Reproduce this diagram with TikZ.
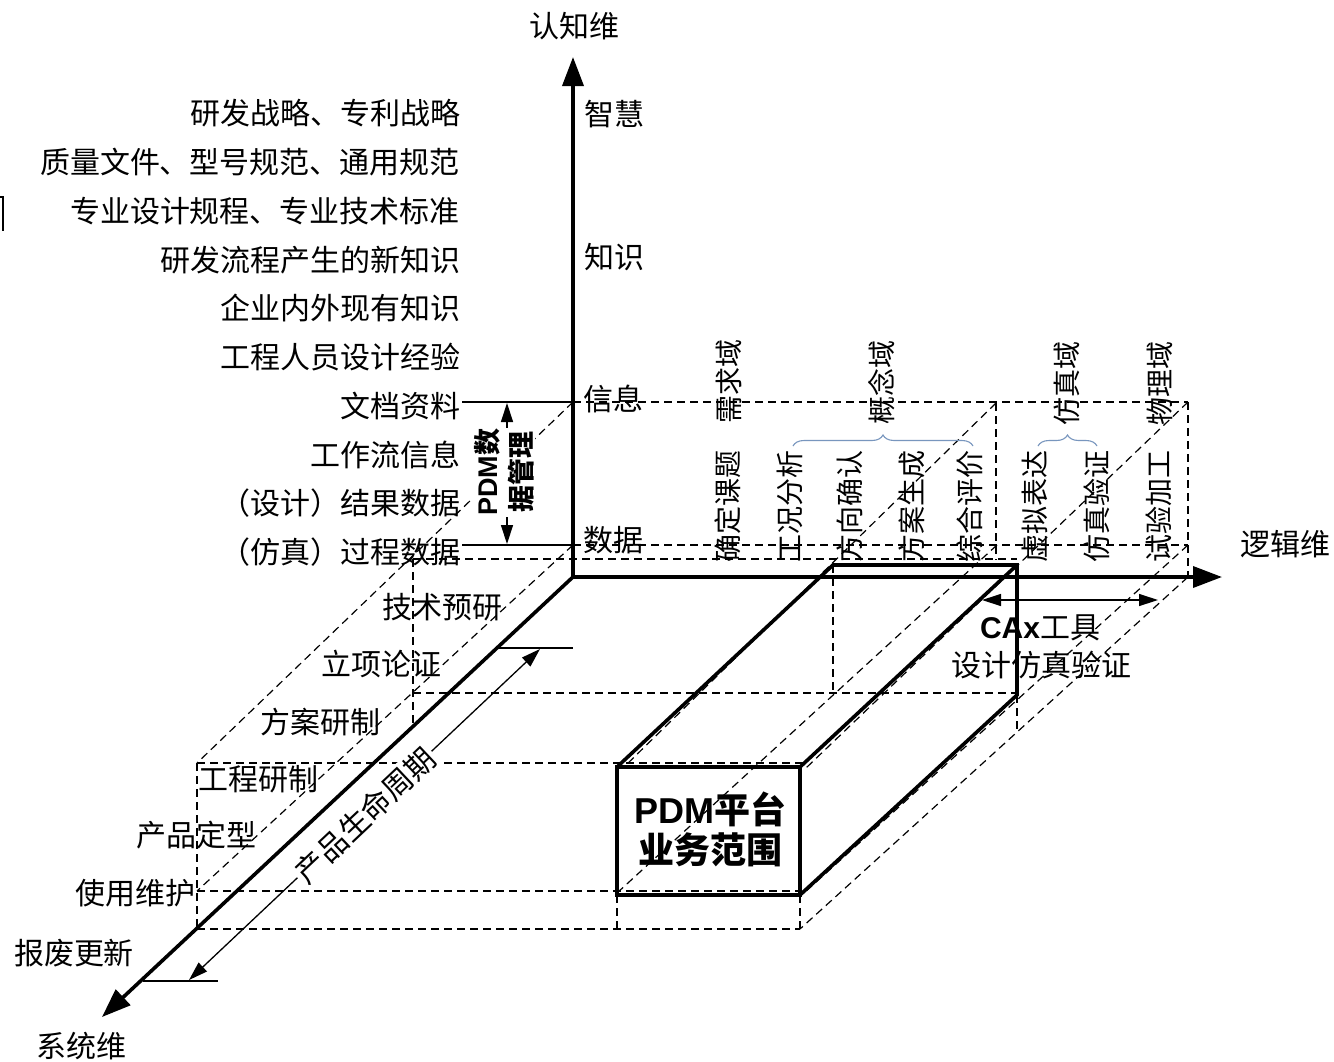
\documentclass[tikz,border=0pt]{standalone}
\usepackage{fontspec}
\setmainfont{Noto Sans CJK SC}
\newfontfamily\arialf{Liberation Sans}
\usetikzlibrary{arrows.meta,decorations.pathreplacing}
\definecolor{braceblue}{RGB}{120,150,190}
\newcommand\myfs[1]{\fontsize{#1}{#1}\selectfont}
\begin{document}
\begin{tikzpicture}[x=1pt,y=-1pt,
  every node/.style={inner sep=0pt, outer sep=0pt},
  lbl/.style={font=\myfs{30}},
  vlbl/.style={font=\myfs{28}, rotate=90},
  axisln/.style={line width=3.6pt},
  boxln/.style={line width=3.6pt, line join=miter},
  dsh/.style={line width=1.2pt, dash pattern=on 8pt off 5pt},
  thinln/.style={line width=1.3pt},
  bigtip/.style={-{Triangle[length=29pt,width=21pt]}},
  dbl/.style={{Triangle[length=19pt,width=12pt]}-{Triangle[length=19pt,width=12pt]}},
  bracecol/.style={draw=braceblue, line width=1.1pt, decorate, decoration={brace,amplitude=11pt}},
]
\fill[white] (0,0) rectangle (1334,1061);
\useasboundingbox (0,0) rectangle (1334,1061);

% key points
\coordinate (O) at (573,577);
\coordinate (Ytip) at (573,57);
\coordinate (Xtip) at (1222,577);
\coordinate (Ztip) at (102,1017);

% ---------- dashed wireframe ----------
\draw[dsh] (573,402) -- (1188,402);
\draw[dsh] (573,545) -- (1188,545);
\draw[dsh] (1188,402) -- (1188,577);
\draw[dsh] (996,403) -- (996,560);
\draw[dsh] (573,402) -- (197,763);
\draw[dsh] (573,545) -- (197,891);
\draw[dsh] (413,559) -- (1017,559);
\draw[dsh] (413,559) -- (413,727);
\draw[dsh] (413,693) -- (1017,693);
\draw[dsh] (833,565) -- (833,693);
\draw[dsh] (1017,695) -- (1017,733);
\draw[dsh] (197,763) -- (803,763);
\draw[dsh] (197,891) -- (800,891);
\draw[dsh] (197,763) -- (197,929);
\draw[dsh] (197,929) -- (800,929);
\draw[dsh] (617,895) -- (617,929);
\draw[dsh] (800,895) -- (800,929);
\draw[dsh] (996,403) -- (624,767);
\draw[dsh] (1188,402) -- (806,768);
\draw[dsh] (997,545) -- (617,893);
\draw[dsh] (1188,545) -- (804,893);
\draw[dsh] (1188,577) -- (800,929);

% ---------- PDM box ----------
\draw[boxln] (617,767) rectangle (800,895);
\draw[boxln] (617,767) -- (833,565) -- (1017,565) -- (1017,695) -- (800,895);
\draw[boxln] (800,767) -- (1017,565);

% ---------- axes ----------
\draw[axisln, bigtip] (573,579) -- (Ytip);
\draw[axisln, bigtip] (571,577) -- (Xtip);
\draw[axisln, bigtip] (574,576) -- (Ztip);

% ---------- thin lines ----------
\draw[thinln] (462,402) -- (573,402);
\draw[thinln] (462,545) -- (573,545);
\draw[thinln, dbl] (507,403) -- (507,544);
\node[fill=white, rotate=90, align=center, font=\fontsize{27}{34}\selectfont\bfseries, inner sep=1pt] (pdmdm) at (504,472) {{\arialf\bfseries PDM}数\\据管理};

\draw[thinln] (497,648) -- (573,648);
\draw[thinln] (143,981) -- (218,981);
\coordinate (lcA) at (189,980);
\coordinate (lcB) at (540,649);
\draw[thinln, dbl] (lcA) -- (lcB);
\node[fill=white, rotate=43.3, lbl, inner sep=2pt] (lc) at (365,815) {产品生命周期};

\draw[thinln, dbl] (982,600) -- (1158,600);
\node[lbl] (cax) at (1040,628) {{\arialf\bfseries CAx}工具};
\node[lbl] (fzyz) at (1041,665) {设计仿真验证};

\node[align=center, font=\fontsize{36}{40}\selectfont\bfseries] (pdmbox) at (710,829) {{\arialf\bfseries PDM}平台\\业务范围};

% ---------- axis labels ----------
\node[lbl] (ykw) at (574,26) {认知维};
\node[lbl] (xlj) at (1285,544) {逻辑维};
\node[lbl] (zxt) at (81,1046) {系统维};

% ---------- cognitive labels (left) ----------
\node[lbl, anchor=east] (c1) at (460,113) {研发战略、专利战略};
\node[lbl, anchor=east] (c2) at (460,162) {质量文件、型号规范、通用规范};
\node[lbl, anchor=east] (c3) at (460,211) {专业设计规程、专业技术标准};
\node[lbl, anchor=east] (c4) at (460,260) {研发流程产生的新知识};
\node[lbl, anchor=east] (c5) at (460,308) {企业内外现有知识};
\node[lbl, anchor=east] (c6) at (460,357) {工程人员设计经验};
\node[lbl, anchor=east] (c7) at (460,406) {文档资料};
\node[lbl, anchor=east] (c8) at (460,455) {工作流信息};
\node[lbl, anchor=east] (c9) at (460,503) {（设计）结果数据};
\node[lbl, anchor=east] (c10) at (460,552) {（仿真）过程数据};

% ---------- cognitive levels (right of axis) ----------
\node[lbl] (r1) at (614,114) {智慧};
\node[lbl] (r2) at (614,257) {知识};
\node[lbl] (r3) at (613,399) {信息};
\node[lbl] (r4) at (613,540) {数据};

% ---------- lifecycle labels ----------
\node[lbl] (s1) at (442,607) {技术预研};
\node[lbl] (s2) at (381,664) {立项论证};
\node[lbl] (s3) at (320,722) {方案研制};
\node[lbl] (s4) at (258,779) {工程研制};
\node[lbl] (s5) at (196,835) {产品定型};
\node[lbl] (s6) at (135,893) {使用维护};
\node[lbl] (s7) at (74,953) {报废更新};

% ---------- logic domain labels ----------
\node[vlbl] (d1) at (729,381) {需求域};
\node[vlbl] (d2) at (882,382) {概念域};
\node[vlbl] (d3) at (1067,383) {仿真域};
\node[vlbl] (d4) at (1160,383) {物理域};

\node[vlbl] (e1) at (728,506) {确定课题};
\node[vlbl] (e2) at (790,506) {工况分析};
\node[vlbl] (e3) at (850,506) {方向确认};
\node[vlbl] (e4) at (912,506) {方案生成};
\node[vlbl] (e5) at (970,506) {综合评价};
\node[vlbl] (e6) at (1035,506) {虚拟表达};
\node[vlbl] (e7) at (1097,506) {仿真验证};
\node[vlbl] (e8) at (1159,506) {试验加工};

\draw[bracecol] (793,446) -- (973,446);
\draw[bracecol] (1038,446) -- (1097,446);

% small mark at left edge
\draw[line width=1.2pt] (0,197) -- (3,197) -- (3,231);
\end{tikzpicture}
\end{document}
